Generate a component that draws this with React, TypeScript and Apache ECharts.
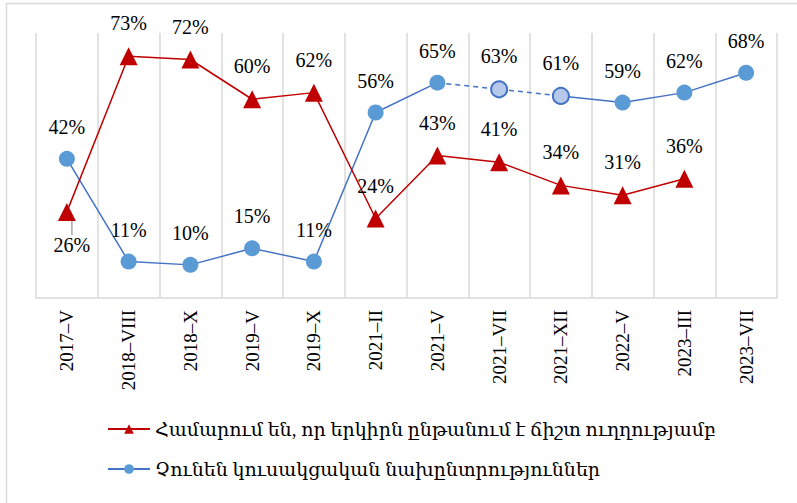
import React, { useEffect, useRef } from "react";
import * as echarts from "echarts";

const categories = ["2017–V", "2018–VIII", "2018–X", "2019–V", "2019–X", "2021–II", "2021–V", "2021–VII", "2021–XII", "2022–V", "2023–III", "2023–VII"];
const redName = "Համարում են, որ երկիրն ընթանում է ճիշտ ուղղությամբ";
const blueName = "Չունեն կուսակցական նախընտրություններ";
const redValues: (number | null)[] = [26, 73, 72, 60, 62, 24, 43, 41, 34, 31, 36, null];
const blueValues: number[] = [42, 11, 10, 15, 11, 56, 65, 63, 61, 59, 62, 68];
const dashedFrom = 6;
const dashedTo = 8;

const SERIF = "'Liberation Serif', 'DejaVu Serif', serif";
const RED = "#c00000";
const BLUE_LINE = "#4472c4";
const BLUE_FILL = "#5b9bd5";

export default function App() {
  const ref = useRef<HTMLDivElement>(null);
  useEffect(() => {
    if (!ref.current) return;
    const chart = echarts.init(ref.current, null, { renderer: "svg" });

    const patternStyle = { color: "#b7c9ea", borderColor: BLUE_LINE, borderWidth: 2 };

    const solidBlue = blueValues.map((v, i) => {
      if (i > dashedFrom && i < dashedTo) return null;
      if (i === dashedTo) return { value: v, symbol: "none", label: { show: false } };
      return v;
    });
    const dashedBlue = blueValues.map((v, i) => {
      if (i < dashedFrom || i > dashedTo) return null;
      if (i === dashedFrom) return { value: v, symbol: "none", label: { show: false } };
      return { value: v, itemStyle: patternStyle };
    });
    const redData = redValues.map((v, i) =>
      i === 0
        ? { value: v, label: { position: "bottom" }, labelLine: { show: true, lineStyle: { color: "#a6a6a6", width: 1.5 } } }
        : v
    );

    const labelBase = {
      show: true,
      position: "top",
      distance: 14,
      fontFamily: SERIF,
      fontSize: 20,
      color: "#000",
      formatter: (p: any) => p.value + "%",
    };

    chart.setOption({
      animation: false,
      backgroundColor: "#ffffff",
      graphic: [
        {
          type: "rect",
          shape: { x: 6.5, y: 3.5, width: 820, height: 520 },
          style: { fill: "none", stroke: "#d9d9d9", lineWidth: 1.5 },
          silent: true,
        },
      ],
      grid: { left: 36, right: 20, top: 33, bottom: 205 },
      legend: {
        orient: "vertical",
        left: 102,
        top: 414,
        itemGap: 20,
        itemWidth: 42,
        itemHeight: 12,
        data: [redName, blueName],
        textStyle: { fontFamily: SERIF, fontSize: 19, color: "#000", lineHeight: 20 },
      },
      xAxis: {
        type: "category",
        data: categories,
        boundaryGap: true,
        axisLine: { lineStyle: { color: "#d9d9d9", width: 1.5 } },
        axisTick: { show: false },
        splitLine: { show: true, interval: 0, lineStyle: { color: "#d9d9d9", width: 1.5 } },
        axisLabel: {
          rotate: 90,
          interval: 0,
          margin: 12,
          fontFamily: SERIF,
          fontSize: 19,
          color: "#000",
        },
      },
      yAxis: {
        type: "value",
        min: 0,
        max: 80,
        show: false,
        splitLine: { show: false },
      },
      series: [
        {
          name: redName,
          type: "line",
          data: redData,
          symbol: "triangle",
          symbolSize: 18,
          lineStyle: { color: RED, width: 1.5 },
          itemStyle: { color: RED },
          label: labelBase,
          labelLine: { show: false },
          labelLayout: (p: any) => (p.dataIndex === 0 ? { dx: 5 } : {}),
          z: 3,
        },
        {
          name: blueName,
          type: "line",
          data: solidBlue,
          symbol: "circle",
          symbolSize: 16,
          lineStyle: { color: BLUE_LINE, width: 1.5 },
          itemStyle: { color: BLUE_FILL },
          label: labelBase,
          z: 2,
        },
        {
          name: "blue-dashed",
          type: "line",
          data: dashedBlue,
          symbol: "circle",
          symbolSize: 16,
          lineStyle: { color: BLUE_LINE, width: 1.5, type: [5, 4] },
          itemStyle: { color: BLUE_FILL },
          label: labelBase,
          z: 2,
        },
      ],
    });
    return () => chart.dispose();
  }, []);
  return <div ref={ref} style={{ width: 797, height: 503, position: "absolute", left: 0, top: 0 }} />;
}
